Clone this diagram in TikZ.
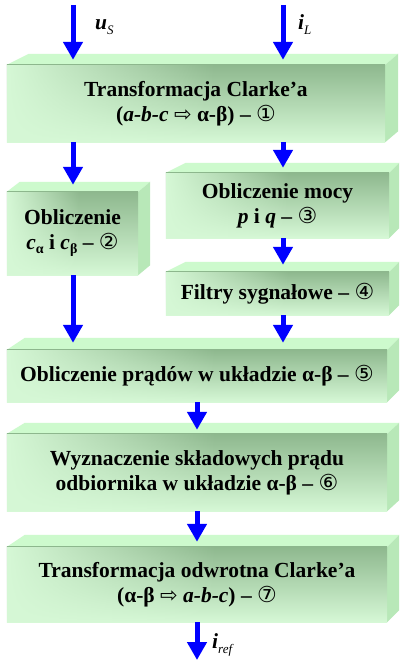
\documentclass[tikz,border=0pt]{standalone}
\usepackage{fontspec}
\setmainfont{Liberation Serif}
\newfontfamily\symf{DejaVu Sans}
\usetikzlibrary{arrows.meta,backgrounds,calc,fadings}
\definecolor{fdark}{RGB}{142,184,142}
\definecolor{flight}{RGB}{214,248,214}
\definecolor{ftop}{RGB}{205,250,205}
\definecolor{fside}{RGB}{184,232,184}
\definecolor{arrblue}{RGB}{0,0,255}
\tikzfading[name=leftfade, left color=transparent!0, right color=transparent!100]
\newcommand\circnum[1]{{\symf\mdseries\upshape\fontsize{22}{22}\selectfont #1}}
\newcommand\wharr{{\symf\mdseries\upshape\fontsize{21}{21}\selectfont ⇨}}
\newcommand\subit[1]{\raisebox{-5pt}{\fontsize{13}{13}\selectfont\mdseries\itshape #1}}
\newcommand\subgr[1]{\raisebox{-4pt}{\fontsize{14}{14}\selectfont\bfseries\upshape #1}}
\newcommand\cubefaces[4]{%
  \fill[ftop] (#1.north west) -- ++(#2,-#4) -- ($(#1.north east)+(#3,-#4)$) -- (#1.north east) -- cycle;
  \fill[fside] (#1.north east) -- ++(#3,-#4) -- ($(#1.south east)+(#3,-#4)$) -- (#1.south east) -- cycle;
  \shade[top color=fdark,bottom color=flight] (#1.north west) rectangle (#1.south east);
  \fill[flight,path fading=leftfade] (#1.north west) rectangle ($(#1.south west)!0.55!(#1.south east)$);
}
\begin{document}
\begin{tikzpicture}[x=1pt,y=-1pt,
  blk/.style={align=center,inner sep=0pt,font=\fontsize{21.5}{25}\selectfont\bfseries},
  lab/.style={inner sep=0pt,font=\fontsize{21.5}{25}\selectfont},
  arr/.style={line width=5pt,draw=arrblue,-{Triangle[width=19pt,length=18pt]}}]
\useasboundingbox (0,0) rectangle (406,666);
% front faces as nodes
\node[blk,minimum width=378pt,minimum height=77pt] (b1) at (196,103.5)
  {Transformacja Clarke’a\\(\textit{a-b-c} \wharr{} α-β) – \circnum{①}};
\node[blk,minimum width=131pt,minimum height=83pt] (b2) at (72.5,233.5)
  {Obliczenie\\\textit{c}\subgr{α} i \textit{c}\subgr{β} – \circnum{②}};
\node[blk,minimum width=223pt,minimum height=65pt] (b3) at (277.5,205.5)
  {Obliczenie mocy\\\textit{p} i \textit{q} – \circnum{③}};
\node[blk,minimum width=223pt,minimum height=43pt] (b4) at (277.5,293.5)
  {Filtry sygnałowe – \circnum{④}};
\node[blk,minimum width=380pt,minimum height=52pt] (b5) at (197,376)
  {Obliczenie prądów w układzie α-β – \circnum{⑤}};
\node[blk,minimum width=380pt,minimum height=77pt] (b6) at (197,472.5)
  {Wyznaczenie składowych prądu\\odbiornika w układzie α-β – \circnum{⑥}};
\node[blk,minimum width=380pt,minimum height=75pt] (b7) at (197,584.5)
  {Transformacja odwrotna Clarke’a\\(α-β \wharr{} \textit{a-b-c}) – \circnum{⑦}};
\begin{scope}[on background layer]
  \fill[white] (0,0) rectangle (406,666);
  \cubefaces{b1}{22}{13}{11}
  \cubefaces{b2}{13}{12}{10}
  \cubefaces{b3}{20}{10}{10}
  \cubefaces{b4}{20}{10}{10}
  \cubefaces{b5}{18}{12}{12}
  \cubefaces{b6}{18}{12}{11}
  \cubefaces{b7}{18}{12}{12}
\end{scope}
% column references
\coordinate (L) at (73,0);
\coordinate (R) at (283,0);
\coordinate (C) at (197,0);
\coordinate (inU) at (73,5);
\coordinate (inI) at (283,5);
\coordinate (out) at (197,660);
% labels
\node[lab,anchor=base west] (lu) at (95,30) {\bfseries\itshape u\subit{S}};
\node[lab,anchor=base west] (li) at (298,30) {\bfseries\itshape i\subit{L}};
\node[lab,anchor=base west] (lr) at (212,648) {\bfseries\itshape i\subit{ref}};
% arrows
\draw[arr] (inU) -- ([yshift=5pt]L |- b1.north);
\draw[arr] (inI) -- ([yshift=5pt]R |- b1.north);
\draw[arr] (L |- b1.south) -- ([yshift=7pt]L |- b2.north);
\draw[arr] (R |- b1.south) -- ([yshift=5pt]R |- b3.north);
\draw[arr] (R |- b3.south) -- ([yshift=7pt]R |- b4.north);
\draw[arr] (L |- b2.south) -- ([yshift=7pt]L |- b5.north);
\draw[arr] (R |- b4.south) -- ([yshift=7pt]R |- b5.north);
\draw[arr] (C |- b5.south) -- ([yshift=4pt]C |- b6.north);
\draw[arr] (C |- b6.south) -- ([yshift=5pt]C |- b7.north);
\draw[arr] (C |- b7.south) -- (out);
\end{tikzpicture}
\end{document}
